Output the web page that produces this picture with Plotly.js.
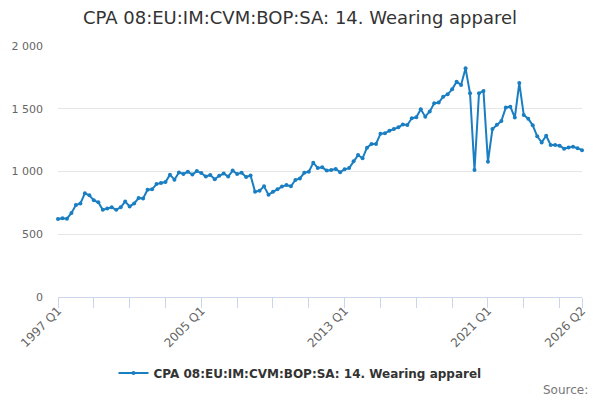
<!DOCTYPE html>
<html>
<head>
<meta charset="utf-8">
<script src="https://cdn.plot.ly/plotly-3.0.1.min.js"></script>
<style>html,body{margin:0;padding:0;background:#fff}#chart{width:600px;height:400px}</style>
</head>
<body>
<div id="chart"></div>
<script>
const seriesName = "CPA 08:EU:IM:CVM:BOP:SA: 14. Wearing apparel";
const firstYear = 1997;
const lastYear = 2026;
const lastQuarter = 2;
const values = [
  621, 627, 624, 670, 733, 746, 826, 810, 770, 755, 695, 706, 715, 695, 715, 760,
  722, 746, 788, 785, 855, 858, 900, 908, 916, 975, 935, 993, 980, 998, 976, 1003,
  988, 960, 972, 938, 966, 984, 960, 1007, 980, 990, 956, 968, 839, 847, 882, 815,
  839, 858, 880, 892, 882, 932, 945, 990, 999, 1070, 1028, 1033, 1007, 1012, 1020, 995,
  1017, 1027, 1082, 1131, 1105, 1190, 1220, 1220, 1300, 1304, 1325, 1339, 1352, 1375, 1371, 1424,
  1432, 1496, 1437, 1478, 1543, 1549, 1596, 1615, 1655, 1716, 1690, 1822, 1623, 1012, 1623, 1642,
  1078, 1338, 1373, 1403, 1510, 1516, 1430, 1705, 1450, 1420, 1368, 1280, 1232, 1285, 1211, 1212,
  1206, 1182, 1191, 1197, 1186, 1170
];
const categories = [];
for (let y = firstYear; y <= lastYear; y++) {
  for (let q = 1; q <= 4; q++) {
    if (y === lastYear && q > lastQuarter) break;
    categories.push(y + " Q" + q);
  }
}
const labelledTicks = ["1997 Q1", "2005 Q1", "2013 Q1", "2021 Q1", "2026 Q2"];
const yTickVals = [0, 500, 1000, 1500, 2000];
const yTickText = ["0", "500", "1 000", "1 500", "2 000"];

// tick marks every 8 quarters plus the last category
const tickVals = [];
for (let i = 0; i < categories.length; i += 8) tickVals.push(categories[i]);
tickVals.push(categories[categories.length - 1]);
const tickText = tickVals.map(c => labelledTicks.includes(c) ? c : "");

const font = "DejaVu Sans, Lucida Grande, Arial, sans-serif";
const trace = {
  type: "scatter",
  mode: "lines+markers",
  name: seriesName,
  x: categories,
  y: values,
  line: {color: "#1a7ec2", width: 2},
  marker: {color: "#1a7ec2", size: 4},
  cliponaxis: false
};
const layout = {
  width: 600, height: 400,
  margin: {l: 58, r: 18, t: 46, b: 103},
  paper_bgcolor: "#fff", plot_bgcolor: "#fff",
  font: {family: font, color: "#666"},
  title: {text: seriesName, x: 0.5, xanchor: "center", y: 1 - 18/400, yanchor: "middle", yref: "container",
          font: {family: font, size: 18, color: "#333"}},
  xaxis: {
    type: "category", range: [0, categories.length - 1],
    tickmode: "array", tickvals: tickVals, ticktext: tickText,
    tickangle: -45, ticks: "outside", ticklen: 10, tickcolor: "#ccd6eb", tickwidth: 1,
    ticklabelstandoff: -9,
    showline: true, linecolor: "#ccd6eb", linewidth: 1,
    showgrid: false, zeroline: false,
    tickfont: {family: font, size: 12, color: "#666"}
  },
  yaxis: {
    range: [0, 2000], tickmode: "array", tickvals: yTickVals, ticktext: yTickText,
    showgrid: true, gridcolor: "#e6e6e6", gridwidth: 1, zeroline: false, showline: false,
    ticks: "", ticklabelstandoff: 14,
    tickfont: {family: font, size: 11, color: "#666"}
  },
  showlegend: true,
  legend: {orientation: "h", x: 0.5 - 20/524, xanchor: "center", y: -(373-297)/251, yanchor: "middle",
           font: {family: font, size: 12, color: "#333", weight: "bold"}},
  annotations: [{
    text: "Source:", xref: "paper", yref: "paper", x: (590-58)/524, y: -(390-297)/251,
    xanchor: "right", yanchor: "middle", showarrow: false,
    font: {family: font, size: 12, color: "#777"}
  }]
};
Plotly.newPlot("chart", [trace], layout, {staticPlot: true, displayModeBar: false});
</script>
</body>
</html>
